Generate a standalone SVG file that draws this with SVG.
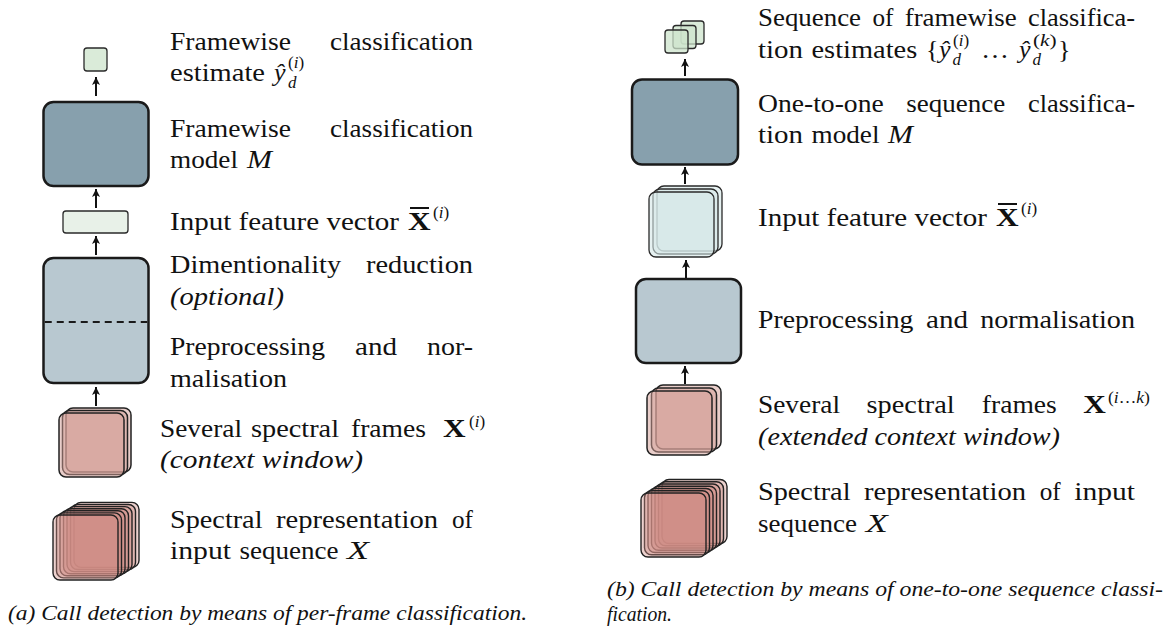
<svg xmlns="http://www.w3.org/2000/svg" width="1174" height="632" viewBox="0 0 1174 632">
<defs>
<style>
.t{font-family:"Liberation Serif","DejaVu Serif","Noto Serif",Times,serif;font-size:26px;fill:#111}
.s{font-family:"Liberation Serif","DejaVu Serif","Noto Serif",Times,serif;font-size:17px;fill:#111}
.i{font-style:italic}
.b{font-weight:bold}
.cap{font-family:"Liberation Serif","DejaVu Serif","Noto Serif",Times,serif;font-size:21px;font-style:italic;fill:#111}
.big{stroke:#1a1a1a;stroke-width:2.5}
.sm{stroke:#2a2a2a;stroke-width:1.3}
.model{fill:#87a0ad}
.prep{fill:#b8c8d0}
.out{fill:#cde4cc;fill-opacity:0.75}
.feat{fill:#e8f1e8}
.featst{fill:#d6e7e7;fill-opacity:0.6;stroke:#2a2a2a;stroke-width:1.3}
.frm{fill:#d49e95;fill-opacity:0.5;stroke:#222;stroke-width:1.5}
.spec{fill:#d08d84;fill-opacity:0.4;stroke:#222;stroke-width:1.4}
.conn{stroke:#111;stroke-width:2;fill:none;marker-end:url(#ah)}
.bar{stroke:#111;stroke-width:2}
</style>
<marker id="ah" markerUnits="userSpaceOnUse" markerWidth="10" markerHeight="10" refX="8" refY="4" orient="auto">
<path d="M0,0 L8,4 L0,8 L2,4 z" fill="#111"/>
</marker>
</defs>
<rect width="1174" height="632" fill="#fff"/>

<!-- (a) per-frame classification -->
<g id="a-output">
<rect x="84" y="48" width="23" height="23" rx="3" class="out sm"/>
<text class="t" x="170" y="50" textLength="121" lengthAdjust="spacingAndGlyphs">Framewise</text>
<text class="t" x="330" y="50" textLength="143" lengthAdjust="spacingAndGlyphs">classification</text>
<text class="t" x="170" y="81" textLength="95" lengthAdjust="spacingAndGlyphs">estimate</text>
<text class="t i" x="274" y="81">ŷ</text>
<text class="s i" x="288" y="88">d</text>
<text class="s" x="288" y="68">(<tspan class="i">i</tspan>)</text>
</g>
<g id="a-model">
<rect x="43.5" y="102" width="105" height="84" rx="10" class="model big"/>
<text class="t" x="170" y="137" textLength="121" lengthAdjust="spacingAndGlyphs">Framewise</text>
<text class="t" x="330" y="137" textLength="143" lengthAdjust="spacingAndGlyphs">classification</text>
<text class="t" x="170" y="168" textLength="68" lengthAdjust="spacingAndGlyphs">model</text>
<text class="t i" x="247" y="168" textLength="25" lengthAdjust="spacingAndGlyphs">M</text>
</g>
<g id="a-feature">
<rect x="63" y="211" width="65" height="22" rx="3" class="feat sm"/>
<text class="t" x="170" y="230" textLength="229" lengthAdjust="spacingAndGlyphs">Input feature vector</text>
<text class="t b" x="408" y="230" textLength="22.6" lengthAdjust="spacingAndGlyphs">X</text>
<line x1="410" y1="208" x2="429" y2="208" class="bar"/>
<text class="s" x="433" y="218">(<tspan class="i">i</tspan>)</text>
</g>
<g id="a-prep">
<rect x="43.5" y="258" width="105" height="125" rx="10" class="prep big"/>
<line x1="44.75" y1="322" x2="147.25" y2="322" stroke="#1a1a1a" stroke-width="2" stroke-dasharray="7 5"/>
<text class="t" x="170" y="273" textLength="171" lengthAdjust="spacingAndGlyphs">Dimentionality</text>
<text class="t" x="366" y="273" textLength="107" lengthAdjust="spacingAndGlyphs">reduction</text>
<text class="t i" x="170" y="305" textLength="114" lengthAdjust="spacingAndGlyphs">(optional)</text>
<text class="t" x="170" y="355" textLength="155" lengthAdjust="spacingAndGlyphs">Preprocessing</text>
<text class="t" x="355" y="355" textLength="42" lengthAdjust="spacingAndGlyphs">and</text>
<text class="t" x="427" y="355" textLength="46" lengthAdjust="spacingAndGlyphs">nor-</text>
<text class="t" x="170" y="387" textLength="117" lengthAdjust="spacingAndGlyphs">malisation</text>
</g>
<g id="a-frames">
<rect x="66" y="408" width="65" height="64" rx="7" class="frm"/>
<rect x="62.5" y="410.5" width="65" height="64" rx="7" class="frm"/>
<rect x="59" y="413" width="65" height="64" rx="7" class="frm"/>
<text class="t" x="160" y="437" textLength="82" lengthAdjust="spacingAndGlyphs">Several</text>
<text class="t" x="251" y="437" textLength="88" lengthAdjust="spacingAndGlyphs">spectral</text>
<text class="t" x="351" y="437" textLength="75" lengthAdjust="spacingAndGlyphs">frames</text>
<text class="t b" x="443" y="437" textLength="22.6" lengthAdjust="spacingAndGlyphs">X</text>
<text class="s" x="469" y="427">(<tspan class="i">i</tspan>)</text>
<text class="t i" x="160" y="468" textLength="203" lengthAdjust="spacingAndGlyphs">(context window)</text>
</g>
<g id="a-spectral">
<rect x="74" y="502.4" width="65" height="65" rx="7" class="spec"/>
<rect x="70.5" y="504.5" width="65" height="65" rx="7" class="spec"/>
<rect x="67" y="506.6" width="65" height="65" rx="7" class="spec"/>
<rect x="63.5" y="508.7" width="65" height="65" rx="7" class="spec"/>
<rect x="60" y="510.8" width="65" height="65" rx="7" class="spec"/>
<rect x="56.5" y="512.9" width="65" height="65" rx="7" class="spec"/>
<rect x="53" y="515" width="65" height="65" rx="7" class="spec"/>
<text class="t" x="170" y="528" textLength="92.5" lengthAdjust="spacingAndGlyphs">Spectral</text>
<text class="t" x="276" y="528" textLength="162" lengthAdjust="spacingAndGlyphs">representation</text>
<text class="t" x="452" y="528" textLength="21" lengthAdjust="spacingAndGlyphs">of</text>
<text class="t" x="170" y="559" textLength="61" lengthAdjust="spacingAndGlyphs">input</text>
<text class="t" x="239.5" y="559" textLength="99" lengthAdjust="spacingAndGlyphs">sequence</text>
<text class="t i" x="347" y="559" textLength="22" lengthAdjust="spacingAndGlyphs">X</text>
</g>
<g id="a-caption">
<text class="cap" x="8" y="620" textLength="519" lengthAdjust="spacingAndGlyphs">(a) Call detection by means of per-frame classification.</text>
</g>

<!-- (b) one-to-one sequence classification -->
<g id="b-output">
<rect x="681" y="21" width="23" height="23" rx="3" class="out sm"/>
<rect x="673" y="25.5" width="23" height="23" rx="3" class="out sm"/>
<rect x="665" y="30" width="23" height="23" rx="3" class="out sm"/>
<text class="t" x="758" y="26" textLength="103" lengthAdjust="spacingAndGlyphs">Sequence</text>
<text class="t" x="872.5" y="26" textLength="21" lengthAdjust="spacingAndGlyphs">of</text>
<text class="t" x="904.7" y="26" textLength="112" lengthAdjust="spacingAndGlyphs">framewise</text>
<text class="t" x="1028" y="26" textLength="107" lengthAdjust="spacingAndGlyphs">classifica-</text>
<text class="t" x="758" y="58" textLength="45" lengthAdjust="spacingAndGlyphs">tion</text>
<text class="t" x="811.5" y="58" textLength="105.7" lengthAdjust="spacingAndGlyphs">estimates</text>
<text class="t" x="926" y="58">{</text>
<text class="t i" x="939" y="58">ŷ</text>
<text class="s i" x="952.5" y="65">d</text>
<text class="s" x="953" y="46">(<tspan class="i">i</tspan>)</text>
<text class="t" x="981" y="58" textLength="28" lengthAdjust="spacingAndGlyphs">…</text>
<text class="t i" x="1019" y="58">ŷ</text>
<text class="s i" x="1032.5" y="65">d</text>
<text class="s" x="1033" y="46" textLength="23.7" lengthAdjust="spacingAndGlyphs">(<tspan class="i">k</tspan>)</text>
<text class="t" x="1058" y="58">}</text>
</g>
<g id="b-model">
<rect x="632" y="79.5" width="106" height="85" rx="10" class="model big"/>
<text class="t" x="758" y="112" textLength="125.7" lengthAdjust="spacingAndGlyphs">One-to-one</text>
<text class="t" x="906.3" y="112" textLength="99" lengthAdjust="spacingAndGlyphs">sequence</text>
<text class="t" x="1028" y="112" textLength="107" lengthAdjust="spacingAndGlyphs">classifica-</text>
<text class="t" x="758" y="143" textLength="45" lengthAdjust="spacingAndGlyphs">tion</text>
<text class="t" x="811.5" y="143" textLength="68" lengthAdjust="spacingAndGlyphs">model</text>
<text class="t i" x="888" y="143" textLength="25" lengthAdjust="spacingAndGlyphs">M</text>
</g>
<g id="b-feature">
<rect x="657" y="186" width="65" height="65" rx="7" class="featst"/>
<rect x="653" y="189" width="65" height="65" rx="7" class="featst"/>
<rect x="649" y="192" width="65" height="65" rx="7" class="featst"/>
<text class="t" x="758" y="226" textLength="229" lengthAdjust="spacingAndGlyphs">Input feature vector</text>
<text class="t b" x="996" y="226" textLength="22.6" lengthAdjust="spacingAndGlyphs">X</text>
<line x1="998" y1="204" x2="1017" y2="204" class="bar"/>
<text class="s" x="1021" y="214">(<tspan class="i">i</tspan>)</text>
</g>
<g id="b-prep">
<rect x="636" y="279" width="105" height="84" rx="10" class="prep big"/>
<text class="t" x="758" y="328" textLength="155.4" lengthAdjust="spacingAndGlyphs">Preprocessing</text>
<text class="t" x="926" y="328" textLength="42" lengthAdjust="spacingAndGlyphs">and</text>
<text class="t" x="980.2" y="328" textLength="154.8" lengthAdjust="spacingAndGlyphs">normalisation</text>
</g>
<g id="b-frames">
<rect x="656" y="385" width="65" height="64" rx="7" class="frm"/>
<rect x="651.5" y="388" width="65" height="64" rx="7" class="frm"/>
<rect x="647" y="391" width="65" height="64" rx="7" class="frm"/>
<text class="t" x="758" y="413" textLength="82" lengthAdjust="spacingAndGlyphs">Several</text>
<text class="t" x="866.6" y="413" textLength="88" lengthAdjust="spacingAndGlyphs">spectral</text>
<text class="t" x="981.8" y="413" textLength="75" lengthAdjust="spacingAndGlyphs">frames</text>
<text class="t b" x="1083.3" y="413" textLength="22.6" lengthAdjust="spacingAndGlyphs">X</text>
<text class="s" x="1108" y="403" textLength="42" lengthAdjust="spacingAndGlyphs">(<tspan class="i">i</tspan>…<tspan class="i">k</tspan>)</text>
<text class="t i" x="758" y="445" textLength="302" lengthAdjust="spacingAndGlyphs">(extended context window)</text>
</g>
<g id="b-spectral">
<rect x="662" y="479.5" width="65" height="64" rx="7" class="spec"/>
<rect x="658.5" y="481.75" width="65" height="64" rx="7" class="spec"/>
<rect x="655" y="484" width="65" height="64" rx="7" class="spec"/>
<rect x="651.5" y="486.25" width="65" height="64" rx="7" class="spec"/>
<rect x="648" y="488.5" width="65" height="64" rx="7" class="spec"/>
<rect x="644.5" y="490.75" width="65" height="64" rx="7" class="spec"/>
<rect x="641" y="493" width="65" height="64" rx="7" class="spec"/>
<text class="t" x="758" y="500" textLength="92.5" lengthAdjust="spacingAndGlyphs">Spectral</text>
<text class="t" x="864.1" y="500" textLength="162" lengthAdjust="spacingAndGlyphs">representation</text>
<text class="t" x="1039.7" y="500" textLength="21" lengthAdjust="spacingAndGlyphs">of</text>
<text class="t" x="1074.3" y="500" textLength="60.7" lengthAdjust="spacingAndGlyphs">input</text>
<text class="t" x="758" y="532" textLength="99" lengthAdjust="spacingAndGlyphs">sequence</text>
<text class="t i" x="865.7" y="532" textLength="22" lengthAdjust="spacingAndGlyphs">X</text>
</g>
<g id="b-caption">
<text class="cap" x="607" y="596" textLength="556" lengthAdjust="spacingAndGlyphs">(b) Call detection by means of one-to-one sequence classi-</text>
<text class="cap" x="607" y="621" textLength="65" lengthAdjust="spacingAndGlyphs">fication.</text>
</g>

<g id="connectors">
<line x1="96" y1="96" x2="96" y2="77" class="conn"/>
<line x1="96" y1="208" x2="96" y2="189" class="conn"/>
<line x1="96" y1="255" x2="96" y2="236" class="conn"/>
<line x1="96" y1="406" x2="96" y2="387" class="conn"/>
<line x1="685" y1="76" x2="685" y2="59" class="conn"/>
<line x1="685" y1="184" x2="685" y2="167" class="conn"/>
<line x1="686" y1="278" x2="686" y2="260" class="conn"/>
<line x1="685" y1="384" x2="685" y2="366" class="conn"/>
</g>
</svg>
